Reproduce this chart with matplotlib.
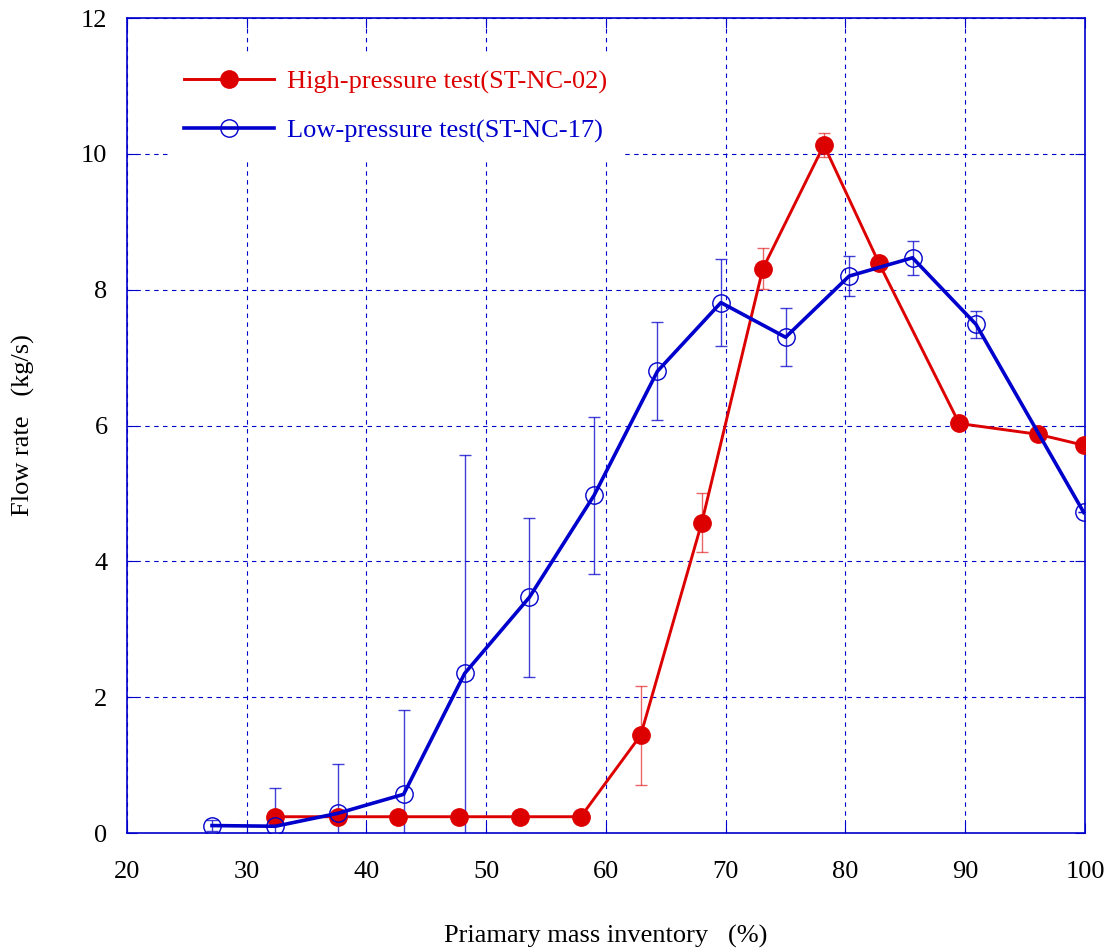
import numpy as np
import matplotlib
matplotlib.use('Agg')
import matplotlib.pyplot as plt

plt.rcParams['font.family'] = ['Liberation Serif', 'DejaVu Serif']

# high-pressure test (ST-NC-02)
hp_x = [32.4, 37.6, 42.6, 47.7, 52.8, 57.9, 62.9, 68.0, 73.1, 78.2, 82.8, 89.5, 96.1, 99.9]
hp_y = [0.24, 0.24, 0.24, 0.24, 0.24, 0.24, 1.44, 4.57, 8.31, 10.13, 8.39, 6.03, 5.87, 5.71]
hp_err = [0, 0, 0, 0, 0, 0, 0.73, 0.43, 0.30, 0.17, 0, 0, 0, 0]

# low-pressure test (ST-NC-17)
lp_x = [27.1, 32.4, 37.6, 43.1, 48.2, 53.6, 59.0, 64.3, 69.6, 75.0, 80.3, 85.6, 90.9, 99.9]
lp_y = [0.11, 0.10, 0.29, 0.57, 2.35, 3.47, 4.97, 6.80, 7.81, 7.30, 8.20, 8.47, 7.49, 4.72]
lp_err = [0.08, 0.56, 0.73, 1.24, 3.22, 1.17, 1.16, 0.72, 0.64, 0.43, 0.30, 0.25, 0.20, 0]

red = '#DD0000'
blue = '#0000CC'

fig = plt.figure(figsize=(11.08, 9.49), dpi=100)
ax = fig.add_axes([0.1146, 0.1222, 0.8646, 0.8588])

ax.errorbar(hp_x, hp_y, yerr=hp_err, fmt='none', ecolor=red, elinewidth=1.0,
            capsize=4.5, capthick=1.0, alpha=0.6, zorder=3)
ax.errorbar(lp_x, lp_y, yerr=lp_err, fmt='none', ecolor=blue, elinewidth=1.0,
            capsize=4.5, capthick=1.0, alpha=0.75, zorder=3)

ax.plot(hp_x, hp_y, color=red, lw=2.1, marker='o', ms=12.5, mfc=red, mec=red,
        label='High-pressure test(ST-NC-02)', zorder=4)
ax.plot(lp_x, lp_y, color=blue, lw=2.6, marker='o', ms=12.5, mfc='none', mec=blue,
        mew=1.0, label='Low-pressure test(ST-NC-17)', zorder=5)

ax.set_xlim(20, 100)
ax.set_ylim(0, 12)
ax.set_xticks(np.arange(20, 101, 10))
ax.set_yticks(np.arange(0, 13, 2))
ax.grid(True, color=blue, ls=(0, (4, 4)), lw=0.8)
for s in ax.spines.values():
    s.set_color(blue)
    s.set_linewidth(1.2)
ax.tick_params(direction='in', length=7, color=blue, top=True, right=True,
               labelsize=19, pad=14)
ax.tick_params(axis='x', pad=20)

ax.set_xlabel('Priamary mass inventory   (%)', fontsize=19, labelpad=30)
ax.set_ylabel('Flow rate   (kg/s)', fontsize=19, labelpad=33)

leg = ax.legend(loc='upper left', bbox_to_anchor=(0.029, 0.972), fontsize=19,
                handlelength=3.4, handletextpad=0.5, labelspacing=0.95,
                frameon=True, framealpha=1, facecolor='white', edgecolor='none',
                borderpad=0.6)
leg.get_texts()[0].set_color(red)
leg.get_texts()[1].set_color(blue)
leg.set_zorder(6)

fig.savefig('out.png', dpi=100)
